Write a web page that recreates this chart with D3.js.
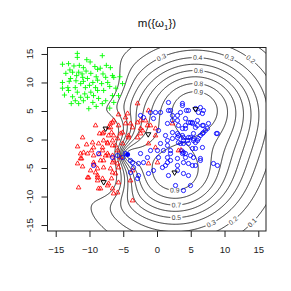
<!DOCTYPE html>
<html>
<head>
<meta charset="utf-8">
<script src="https://cdn.jsdelivr.net/npm/d3@7"></script>
<style>
  body { margin: 0; background: #fff; }
  text { font-family: "Liberation Sans", Arial, sans-serif; }
</style>
</head>
<body>
<script>
// ---- data ----
const greenPts = [
  [-11.8,15.1],[-11.8,14.4],[-14.0,13.2],[-13.1,13.3],[-10.9,12.6],[-8.8,12.3],[-12.5,11.8],[-11.6,11.8],
  [-9.8,11.6],[-13.5,11.6],[-11.9,11.2],[-11.0,10.9],[-12.8,10.7],[-14.0,10.0],[-10.3,10.7],[-9.5,10.0],
  [-8.8,10.4],[-11.3,9.8],[-12.1,9.1],[-13.2,9.1],[-10.6,9.1],[-9.1,9.1],[-14.0,9.0],[-13.1,8.6],
  [-9.8,8.3],[-8.8,8.6],[-12.5,7.5],[-11.3,7.4],[-10.3,7.4],[-9.4,7.7],[-12.1,6.8],[-10.9,6.8],
  [-8.65,7.2],[-11.6,6.3],[-10.1,5.4],[-8.1,14.7],[-8.4,12.5],[-6.6,11.2],[-7.6,10.9],[-6.4,10.9],
  [-7.3,10.0],[-5.1,9.8],[-6.1,9.0],[-7.9,8.6],[-6.6,7.7],[-5.7,7.7],[-7.6,6.8],[-6.4,6.5],[-8.1,6.3],
  [-10.5,12.0],[-9.2,12.8],[-12.9,12.2],[-11.5,13.0],[-10.0,9.5],[-11.8,8.3],[-10.7,8.0],[-9.5,6.5],
  [-7.0,9.3],[-8.2,9.8],[-12.0,10.3],[-13.0,10.2],[-10.9,10.2],[-9.0,11.0],[-8.0,11.5],[-6.9,12.6],
  [-12.3,12.9],[-9.9,13.6],[-7.5,13.0],[-11.1,11.5],[-13.7,7.8],[-12.7,6.3],[-9.0,5.8],[-7.0,5.5],
  [-5.5,11.0],[-10.4,14.0]
];
const redPts = [
  [-9.10,2.46],[-11.02,0.35],[-11.76,-1.23],[-10.43,-0.88],[-8.51,1.05],[-9.69,-1.93],[-11.32,-2.46],
  [-10.87,-2.28],[-9.39,-2.81],[-11.32,-3.33],[-11.76,-4.21],[-11.02,-4.74],[-10.13,-6.67],[-9.10,-5.79],
  [-8.80,-6.67],[-11.61,-8.42],[-8.80,-7.19],[-8.65,-8.60],[-6.88,2.11],[-6.58,2.98],[-8.06,1.05],
  [-7.17,0.70],[-6.73,1.23],[-9.54,-0.53],[-9.39,-1.40],[-8.65,-0.70],[-7.91,-0.18],[-7.32,-0.70],
  [-6.58,-0.18],[-6.14,-1.05],[-10.28,-2.46],[-11.17,-3.33],[-9.39,-4.04],[-8.36,-3.68],[-7.62,-2.81],
  [-6.58,-2.81],[-9.84,-5.44],[-8.80,-5.09],[-7.91,-4.91],[-6.88,-5.09],[-5.84,-4.21],[-10.28,-6.67],
  [-8.80,-6.32],[-8.06,-6.84],[-7.32,-8.07],[-6.58,-8.60],[-6.43,-9.47],[-8.36,-8.60],[-6.73,-6.84],
  [-5.70,-7.54],[-5.84,-9.30],[-6.88,2.81],[-5.70,4.39],[-4.66,2.81],[-3.62,2.11],[-2.88,2.98],
  [-2.44,1.93],[-1.70,3.33],[-5.10,1.23],[-4.22,0.35],[-6.43,0.70],[-7.32,-0.53],[-8.06,-1.40],
  [-6.58,-1.05],[-0.96,2.46],[-0.22,0.70],[-2.88,0.35],[-1.26,-0.70],[-7.32,-2.46],[-5.84,-1.93],
  [-7.91,-3.68],[-6.58,-4.04],[-5.40,-3.16],[-6.58,-5.79],[-5.70,-4.91],[-3.62,-5.44],[0.07,-4.04],
  [2.29,2.81],[-0.22,-1.40],[3.18,-1.93],[-4.36,4.56],[-7.91,1.23],[-5.84,0.18],[-5.10,-0.70],
  [-4.22,0.70],[-2.44,1.05],[-8.06,-1.93],[-7.17,-2.81],[-6.43,-3.68],[-6.14,-5.96],[-7.17,-7.72],
  [-3.92,-7.19],[-3.62,-10.70],[-1.26,-4.21],[-2.88,6.32],[-1.26,5.09],[-4.66,3.86],[-6.43,3.33],
  [-7.17,2.11],[-5.70,2.46],[-3.92,2.81],[-2.44,3.33],[-2.14,1.58],[-0.22,1.93],[-5.40,1.05],[-1.41,2.46],
  [-8.55,-2.60],[-9.30,-4.40],[3.55,-1.85]
];
const bluePts = [
  [1.70,6.49],[2.00,5.09],[3.48,4.74],[4.66,5.09],[-0.96,4.74],[-0.22,4.74],[0.52,4.74],[-2.00,3.86],
  [2.29,3.33],[3.18,2.46],[4.22,3.68],[4.96,2.98],[5.99,2.46],[4.22,1.93],[2.29,1.23],[0.22,1.58],
  [1.26,0.70],[5.40,1.05],[3.92,0.35],[3.18,0.70],[3.77,6.32],[4.36,5.09],[5.70,5.44],[6.43,5.61],
  [6.88,5.09],[6.73,4.56],[6.14,4.74],[5.25,2.98],[5.99,3.33],[3.77,1.93],[5.70,2.11],[6.73,2.46],
  [7.47,1.93],[7.17,1.58],[8.95,1.05],[4.66,0.35],[5.40,0.18],[6.43,0.70],[3.77,5.96],[1.70,5.09],
  [3.03,4.21],[5.25,2.81],[6.88,2.46],[7.62,2.81],[6.88,1.23],[8.80,1.05],[4.66,2.98],[3.03,1.05],
  [2.29,0.18],[3.92,-0.18],[4.66,-0.70],[5.40,-0.18],[3.48,-0.70],[5.70,-1.58],[6.73,-1.40],
  [3.92,-2.28],[4.96,-2.81],[2.00,-2.46],[0.96,-1.93],[0.22,-3.16],[2.00,-3.68],[3.03,-3.33],
  [3.92,-4.04],[5.25,-4.56],[8.95,-4.56],[1.26,-4.56],[3.77,0.70],[6.14,0.18],[5.70,-0.53],
  [3.92,-0.70],[5.25,-1.58],[3.77,-2.46],[4.22,-3.16],[4.66,-4.21],[5.70,-4.56],[6.43,-3.33],
  [8.36,-4.21],[3.92,-5.96],[4.66,-6.32],[3.92,-8.95],[6.73,1.05],[-5.10,-3.16],[-3.92,-3.68],
  [-3.48,-4.91],[-2.74,-4.21],[-2.00,-4.04],[-1.41,-3.16],[-0.96,-1.93],[0.07,-1.93],[0.52,-0.70],
  [1.55,-0.18],[2.00,-1.93],[3.03,0.35],[4.96,0.35],[5.99,-0.18],[4.22,-2.46],[5.40,-3.16],
  [6.43,-3.68],[1.55,-4.04],[3.03,-4.56],[-0.52,-5.44],[0.81,-4.91],[1.70,-6.32],[2.74,-8.07],
  [4.96,-8.07],[-2.74,-6.32],[-1.26,-5.96],[-3.92,-5.79],[-2.88,-6.84],[-2.44,4.21],[-0.52,3.68],
  [2.29,4.21],[3.03,3.33],[1.55,2.81],[4.22,2.46],[-4.66,-2.46],[-3.62,-4.04],[-2.44,-2.46],
  [1.55,-1.05],[3.18,-0.53],[4.51,-0.18],[1.55,-3.16],[3.03,-5.44],[-6.58,-3.16],[-5.84,-2.81],
  [-8.65,-2.46],[-9.39,-4.56],[3.70,-2.00]
];
const blueDot = [[-4.36,-2.63]];
// black inverted triangles
const protoMarks = [[-7.6,1.9],[-1.3,0.9],[5.7,5.3],[-7.9,-7.5],[2.6,-5.8]];

// evidence sources behind m({w1}): position, class (0 blue, 1 red, 2 green), alpha, gamma, exponent
const srcPos   = [[5.7,5.3],[2.6,-5.8],[-4.36,-2.63],[-8.5,-2.8],[-7.6,1.9],[-7.9,-7.5],[-10.5,10.0]];
const srcClass = [0, 0, 0, 1, 1, 1, 2];
const srcAlpha = [0.99, 0.99, 0.93, 0.5, 0.5, 0.5, 0.5];
const srcGamma = [0.0112, 0.0112, 0.08, 0.045, 0.1, 0.1, 0.08];
const srcKappa = [1, 1, 1, 7, 2.7, 2.5, 10.6];

const levels = [0.1,0.2,0.3,0.4,0.5,0.6,0.7,0.8,0.9];
const labelLevels = [0.3,0.4,0.6,0.8,0.9,0.3,0.2,0.9,0.7,0.5,0.3,0.2,0.1];
const labelAt = [[0.8,13.9],[6.0,14.6],[6.1,11.75],[6.1,9.65],[6.1,8.1],[10.7,14.4],[13.8,13.9],
                 [2.6,-8.4],[2.9,-11.05],[2.9,-13.2],[7.9,-14.6],[11.2,-14.2],[14.1,-14.6]];
const xTicks = [-15,-10,-5,0,5,10,15];
const yTicks = [-15,-10,-5,0,5,10,15];

// ---- layout ----
const W = 291, H = 291;
const sx = d3.scaleLinear().domain([-16.2, 16.2]).range([47.6, 266.4]);
const sy = d3.scaleLinear().domain([-16.1, 16.1]).range([231.3, 47.7]);

const svg = d3.select("body").append("svg").attr("width", W).attr("height", H);

svg.append("defs").append("clipPath").attr("id", "plotclip")
    .append("rect").attr("x", 47.5).attr("y", 47.5).attr("width", 218.5).attr("height", 183.5);

// ---- mass m({w1}): Dempster combination of simple mass functions ----
function massBlue(x, y) {
    const q = [1, 1, 1];
    let qo = 1;
    for (let i = 0; i < srcPos.length; i++) {
        const dx = x - srcPos[i][0], dy = y - srcPos[i][1];
        const phi = srcAlpha[i] * Math.exp(-srcGamma[i] * (dx * dx + dy * dy));
        const mo = Math.pow(1 - phi, srcKappa[i]);
        const s = 1 - mo;
        qo *= mo;
        for (let k = 0; k < 3; k++) q[k] *= mo + (srcClass[i] === k ? s : 0);
    }
    const mb = q[0] - qo, mr = q[1] - qo, mg = q[2] - qo;
    return mb / (mb + mr + mg + qo);
}

const n = 300, g0 = -17.5, step = 35 / (n - 1);
const values = new Float64Array(n * n);
for (let j = 0; j < n; j++) {
    for (let i = 0; i < n; i++) {
        values[j * n + i] = massBlue(g0 + i * step, g0 + j * step);
    }
}
const contours = d3.contours().size([n, n]).thresholds(levels)(values);

const toPx = (c) => [sx(g0 + (c[0] - 0.5) * step), sy(g0 + (c[1] - 0.5) * step)];
const path = d3.geoPath(d3.geoTransform({
    point(x, y) {
        const p = toPx([x, y]);
        this.stream.point(p[0], p[1]);
    }
}));

const gC = svg.append("g").attr("clip-path", "url(#plotclip)");
gC.selectAll("path.ct")
    .data(contours)
    .enter()
    .append("path")
    .attr("class", "ct")
    .attr("d", path)
    .attr("fill", "none")
    .attr("stroke", "#1a1a1a")
    .attr("stroke-width", 0.9);

// labels: snap to nearest point of the contour of that level
labelLevels.forEach((lv, k) => {
    const c = contours.find((d) => Math.abs(d.value - lv) < 1e-9);
    if (!c) return;
    const tx = sx(labelAt[k][0]), ty = sy(labelAt[k][1]);
    let best = null, bd = Infinity;
    c.coordinates.forEach((poly) => poly.forEach((ring) => {
        const pts = ring.map(toPx);
        pts.forEach((p, idx) => {
            const d = (p[0] - tx) ** 2 + (p[1] - ty) ** 2;
            if (d < bd) { bd = d; best = { pts, idx }; }
        });
    }));
    if (!best) return;
    const pts = best.pts, m = pts.length;
    const p = pts[best.idx];
    const a = pts[(best.idx - 3 + m) % m], b = pts[(best.idx + 3) % m];
    let ang = Math.atan2(b[1] - a[1], b[0] - a[0]) * 180 / Math.PI;
    if (ang > 90) ang -= 180;
    if (ang < -90) ang += 180;
    const gl = gC.append("g").attr("transform", `translate(${p[0]},${p[1]}) rotate(${ang})`);
    gl.append("rect").attr("x", -6).attr("y", -3.5).attr("width", 12).attr("height", 7).attr("fill", "#fff");
    gl.append("text").attr("text-anchor", "middle").attr("dy", "0.35em")
        .attr("font-size", 6.8).attr("fill", "#444").text(String(lv));
});

// ---- points ----
const gP = svg.append("g").attr("clip-path", "url(#plotclip)");
gP.selectAll("path.g").data(greenPts).enter().append("path")
    .attr("d", (d) => `M${sx(d[0]) - 2.6},${sy(d[1])}h5.2M${sx(d[0])},${sy(d[1]) - 2.6}v5.2`)
    .attr("stroke", "#00ff00").attr("stroke-width", 0.9).attr("fill", "none");
gP.selectAll("path.r").data(redPts).enter().append("path")
    .attr("d", (d) => `M${sx(d[0])},${sy(d[1]) - 2.6}l2.3,4l-4.6,0z`)
    .attr("stroke", "#ff0000").attr("stroke-width", 0.85).attr("fill", "none");
gP.selectAll("circle.b").data(bluePts).enter().append("circle")
    .attr("cx", (d) => sx(d[0])).attr("cy", (d) => sy(d[1])).attr("r", 2.1)
    .attr("stroke", "#0000ff").attr("stroke-width", 0.85).attr("fill", "none");
gP.selectAll("circle.bd").data(blueDot).enter().append("circle")
    .attr("cx", (d) => sx(d[0])).attr("cy", (d) => sy(d[1])).attr("r", 2.5).attr("fill", "#0000ff");
gP.selectAll("path.pr").data(protoMarks).enter().append("path")
    .attr("d", (d) => `M${sx(d[0])},${sy(d[1]) + 2.8}l2.6,-4.4l-5.2,0z`)
    .attr("stroke", "#000").attr("stroke-width", 1).attr("fill", "none");

// ---- box and axes ----
svg.append("rect").attr("x", 47.5).attr("y", 47.5).attr("width", 218.5).attr("height", 183.5)
    .attr("fill", "none").attr("stroke", "#222").attr("stroke-width", 1);

const gx = svg.append("g").attr("transform", "translate(0,231)")
    .call(d3.axisBottom(sx).tickValues(xTicks).tickSize(6).tickPadding(9).tickFormat(d3.format("d")));
const gy = svg.append("g").attr("transform", "translate(47.5,0)")
    .call(d3.axisLeft(sy).tickValues(yTicks).tickSize(6).tickFormat(""));
[gx, gy].forEach((g) => {
    g.select(".domain").remove();
    g.selectAll("line").attr("stroke", "#222");
});
gx.selectAll("text").attr("font-size", 9.5).attr("fill", "#222")
    .attr("font-family", "'Liberation Sans', Arial, sans-serif");

svg.append("g").selectAll("text").data(yTicks).enter().append("text")
    .attr("transform", (d) => `translate(33.4,${sy(d)}) rotate(-90)`)
    .attr("text-anchor", "middle").attr("font-size", 9.5).attr("fill", "#222")
    .text((d) => d);

// title m({w1})
const title = svg.append("text").attr("x", 157).attr("y", 27).attr("text-anchor", "middle")
    .attr("font-size", 11.5).attr("fill", "#111");
title.append("tspan").text("m({ω");
title.append("tspan").attr("font-size", 8).attr("dy", 2.5).text("1");
title.append("tspan").attr("dy", -2.5).text("})");
</script>
</body>
</html>
